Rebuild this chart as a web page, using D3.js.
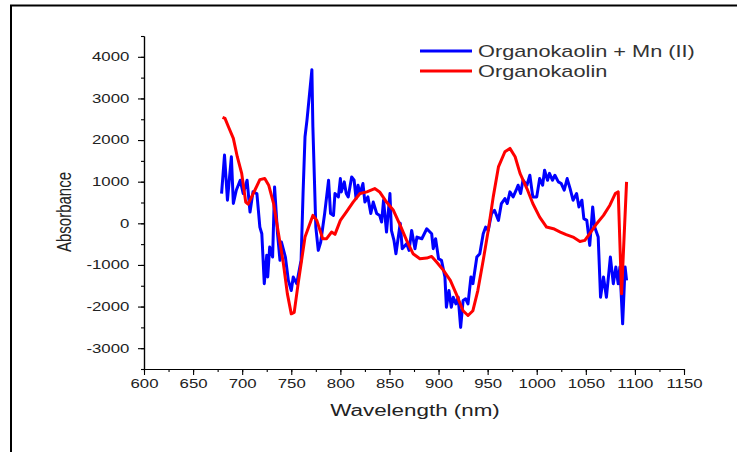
<!DOCTYPE html>
<html>
<head>
<meta charset="utf-8">
<script src="https://cdn.jsdelivr.net/npm/d3@7"></script>
<style>
  body { margin: 0; background: #fff; }
  text { font-family: "Liberation Sans", Arial, sans-serif; fill: #222; }
</style>
</head>
<body>
<div id="chart-area"></div>
<script>
// data
const mnWavelength = [679, 682, 685, 689, 691, 694, 698, 701, 705, 708, 711, 715, 718, 720, 722.5, 725, 726, 728, 731, 733,
  736, 738.5, 740, 744, 747, 750, 752, 755.5, 760, 762, 764, 766, 767, 771, 772, 775, 777.5, 780, 784, 788,
  790, 793, 794.5, 798, 800, 801, 804, 806, 808, 811.5, 814, 816, 818, 820, 823, 825, 828, 831, 833.5, 837,
  840, 842, 844, 847, 850.5, 852, 854.6, 856.6, 861, 863, 867.5, 870, 872.6, 876, 878, 883, 888, 893, 894.6, 897,
  900, 903, 906.5, 908, 910.6, 913, 915, 917.7, 920, 922.5, 925, 927.6, 930, 933, 935, 939, 942, 945.5, 948, 950.6,
  954, 957, 961, 964, 967.6, 970, 972.7, 976, 979, 981, 983.6, 986, 990, 993, 996, 1000, 1003, 1006, 1008, 1011,
  1013, 1016, 1018.5, 1022, 1025, 1028, 1031, 1034, 1037, 1040.6, 1043, 1046, 1048, 1051, 1054, 1057, 1059, 1062.6,
  1065, 1068, 1071, 1075, 1078, 1080.6, 1083, 1084.7, 1087.5, 1090, 1091.5]
const mnAbsorbance = [715, 1640, 555, 1600, 475, 795, 1035, 715, 1035, 270, 755, 715, -90, -250, -1450, -770, -1290, -570, -810, 875,
  -250, -890, -450, -810, -1370, -1615, -1290, -1450, -890, 715, 2080, 2480, 2720, 3690, 2320, -90, -650, -450, 235, 1035,
  235, 190, 715, 635, 1075, 755, 995, 715, 635, 1115, 1035, 595, 915, 715, 955, 510, 635, 235, 510, 235,
  190, 30, 555, -210, 715, -170, -410, -730, 0, -610, -490, -650, -170, -610, -330, -370, -130, -250, -610, -370,
  -850, -890, -1290, -2015, -1615, -2015, -1775, -1935, -1775, -2500, -1855, -1815, -1935, -1290, -1450, -810, -730, -250, -90, -170,
  235, 313, 70, 475, 595, 475, 755, 635, 795, 915, 715, 1035, 915, 1155, 635, 635, 1075, 915, 1275, 1035,
  1200, 1035, 1155, 995, 955, 795, 1075, 835, 555, 715, 393, 555, 113, 70, -530, 393, -90, -330,
  -1775, -1290, -1775, -810, -1450, -1050, -1450, -1050, -2415, -1050, -1370]

const okWavelength = [680, 682.5, 686, 691, 695, 699.5, 703.6, 706, 713, 718, 723, 727, 732, 737, 742, 746, 750, 753, 757, 764,
  772, 776, 782, 786, 791, 794.5, 800, 806, 813, 820, 827, 835, 840, 847, 854, 861, 867.5, 874, 881, 888,
  893, 898, 905, 912, 918, 925, 930, 935, 940, 945.5, 950.6, 955.7, 961, 967.6, 972.7, 978, 983, 990, 996, 1003,
  1010, 1017, 1024, 1030, 1037, 1044, 1049, 1054, 1061, 1068, 1074.5, 1080, 1083, 1086.4, 1091.5]
const okAbsorbance = [2547, 2520, 2320, 2040, 1600, 1200, 510, 460, 800, 1050, 1075, 915, 475, -250, -970, -1690, -2175, -2140, -1450, -330,
  190, 70, -370, -370, -210, -265, 70, 270, 510, 715, 755, 835, 755, 510, 313, -50, -410, -730, -850, -835,
  -795, -930, -1130, -1370, -1695, -2100, -2215, -2100, -1615, -890, -170, 635, 1355, 1720, 1800, 1600, 1200, 835, 475, 150,
  -90, -130, -210, -270, -330, -435, -410, -250, -10, 190, 435, 715, 755, -1695, 995]

const seriesNames = ["Organokaolin + Mn (II)", "Organokaolin"]
const seriesColors = ["#0000ff", "#ff0000"]
const xTicks = [600, 650, 700, 750, 800, 850, 900, 950, 1000, 1050, 1100, 1150]
const yTicks = [-3000, -2000, -1000, 0, 1000, 2000, 3000, 4000]

const WIDTH = 737
const HEIGHT = 452
const STRETCH = 1.4   // the reference text is stretched sideways

const svg = d3.select("#chart-area").append("svg")
  .attr("width", WIDTH)
  .attr("height", HEIGHT)

// frame (top and left only)
svg.append("path")
  .attr("d", "M11,452 V5.5 H737")
  .attr("fill", "none")
  .attr("stroke", "#000")
  .attr("stroke-width", 2)

const x = d3.scaleLinear().domain([600, 1150]).range([144, 684])
const y = d3.scaleLinear().domain([-3500, 4500]).range([369, 36])

// x axis
const xMinor = d3.range(600, 1151, 25)
svg.append("g")
  .attr("transform", "translate(0,369)")
  .call(d3.axisBottom(x).tickValues(xMinor).tickSize(3).tickSizeOuter(0).tickFormat(""))
svg.append("g")
  .attr("class", "x axis")
  .attr("transform", "translate(0,369)")
  .call(d3.axisBottom(x).tickValues(xTicks).tickSize(6).tickSizeOuter(0).tickPadding(4).tickFormat(d => String(d)))
  .selectAll("text")
    .attr("transform", `scale(${STRETCH},1)`)
    .style("font-size", "12px")

// y axis
const yMinor = d3.range(-3500, 4501, 500)
svg.append("g")
  .attr("transform", "translate(144,0)")
  .call(d3.axisLeft(y).tickValues(yMinor).tickSize(3).tickSizeOuter(0).tickFormat(""))
svg.append("g")
  .attr("class", "y axis")
  .attr("transform", "translate(144,0)")
  .call(d3.axisLeft(y).tickValues(yTicks).tickSize(6).tickSizeOuter(0).tickFormat(d => String(d)))
  .selectAll("text")
    .attr("x", -10.5)
    .attr("transform", `scale(${STRETCH},1)`)
    .style("font-size", "12px")

svg.selectAll(".domain").attr("stroke", "#000").attr("stroke-width", 1.2)
svg.selectAll(".tick line").attr("stroke", "#000").attr("stroke-width", 1.1)

// axis labels
svg.append("text")
  .attr("transform", `translate(415,416) scale(${STRETCH},1)`)
  .attr("text-anchor", "middle")
  .style("font-size", "16px")
  .text("Wavelength (nm)")

svg.append("text")
  .attr("transform", `translate(71,212) scale(${STRETCH},1) rotate(-90)`)
  .attr("text-anchor", "middle")
  .style("font-size", "15px")
  .text("Absorbance")

// lines
const line = d3.line()
  .x(d => x(d[0]))
  .y(d => y(d[1]))

const series = [
  d3.zip(mnWavelength, mnAbsorbance),
  d3.zip(okWavelength, okAbsorbance)
]

series.forEach((pts, i) => {
  svg.append("path")
    .datum(pts)
    .attr("fill", "none")
    .attr("stroke", seriesColors[i])
    .attr("stroke-width", 3)
    .attr("stroke-linejoin", "round")
    .attr("d", line)
})

// legend
seriesNames.forEach((name, i) => {
  const ly = 51 + i * 20
  svg.append("line")
    .attr("x1", 420).attr("x2", 472)
    .attr("y1", ly).attr("y2", ly)
    .attr("stroke", seriesColors[i])
    .attr("stroke-width", 3)
  svg.append("text")
    .attr("transform", `translate(478,${ly + 6}) scale(1.36,1)`)
    .style("font-size", "16px")
    .style("fill", "#333")
    .text(name)
})
</script>
</body>
</html>
